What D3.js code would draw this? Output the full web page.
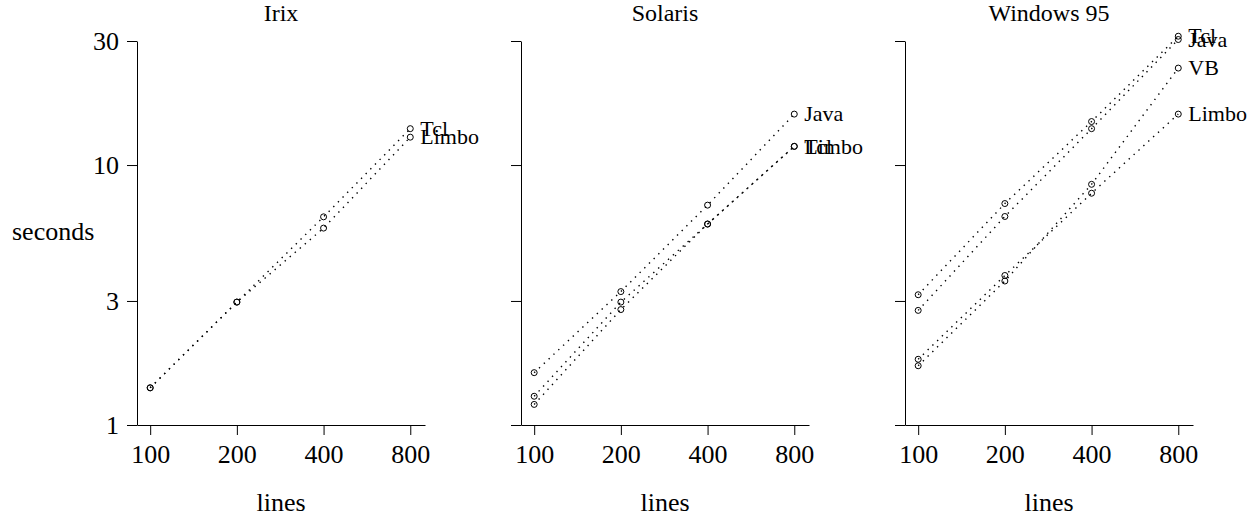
<!DOCTYPE html>
<html>
<head>
<meta charset="utf-8">
<script src="https://cdn.jsdelivr.net/npm/d3@7"></script>
<style>
  body { margin: 0; background: #fff; }
  svg text { font-family: "Liberation Serif", "Times New Roman", serif; fill: #000; }
  .axis path, .axis line { stroke: #000; stroke-width: 1; }
  .axis text { font-family: "Liberation Serif", serif; }
</style>
</head>
<body>
<svg id="chart" width="1256" height="517"></svg>
<script>
// x values (lines of code) and axis ticks
const lineCounts = [100, 200, 400, 800];
const yTicks = [1, 3, 10, 30];
const panelTitles = ["Irix", "Solaris", "Windows 95"];

// Irix
const irixTcl = [1.39, 2.97, 6.32, 13.8];
const irixLimbo = [1.39, 2.97, 5.72, 12.8];

// Solaris
const solarisJava = [1.59, 3.26, 7.01, 15.7];
const solarisTcl = [1.29, 2.97, 5.93, 11.8];
const solarisLimbo = [1.2, 2.78, 5.93, 11.8];

// Windows 95
const win95Tcl = [3.17, 7.11, 14.7, 31.3];
const win95Java = [2.76, 6.34, 13.8, 30.4];
const win95VB = [1.69, 3.58, 8.43, 23.6];
const win95Limbo = [1.79, 3.76, 7.79, 15.7];

const panels = [
    [{ name: "Tcl", values: irixTcl }, { name: "Limbo", values: irixLimbo }],
    [{ name: "Java", values: solarisJava }, { name: "Tcl", values: solarisTcl }, { name: "Limbo", values: solarisLimbo }],
    [{ name: "Tcl", values: win95Tcl }, { name: "Java", values: win95Java }, { name: "VB", values: win95VB }, { name: "Limbo", values: win95Limbo }]
];

const svg = d3.select("#chart");
const left0 = 137, plotTop = 41, panelW = 288, panelH = 384, step = 384;

const x = d3.scaleLog().domain([90, 900]).range([0, panelW]);
const y = d3.scaleLog().domain([1, 30]).range([panelH, 0]);

const line = d3.line()
    .x(d => x(d.n))
    .y(d => y(d.v));

panels.forEach((series, i) => {
    const g = svg.append("g")
        .attr("transform", `translate(${left0 + i * step},${plotTop})`);

    // title
    g.append("text")
        .attr("x", panelW / 2)
        .attr("y", -20)
        .attr("text-anchor", "middle")
        .style("font-size", "24px")
        .text(panelTitles[i]);

    // axes
    g.append("g")
        .attr("class", "axis")
        .attr("transform", `translate(0,${panelH})`)
        .call(d3.axisBottom(x).tickValues(lineCounts).tickFormat(d3.format("d"))
            .tickSizeInner(10).tickSizeOuter(0).tickPadding(10));

    g.append("g")
        .attr("class", "axis")
        .call(d3.axisLeft(y).tickValues(yTicks)
            .tickFormat(i === 0 ? d3.format("d") : () => "")
            .tickSizeInner(10).tickSizeOuter(0).tickPadding(8));

    g.selectAll(".axis text").style("font-size", "26px");

    // x-axis title
    g.append("text")
        .attr("x", panelW / 2)
        .attr("y", panelH + 86)
        .attr("text-anchor", "middle")
        .style("font-size", "26px")
        .text("lines");

    series.forEach(s => {
        const pts = lineCounts.map((n, j) => ({ n: n, v: s.values[j] }));

        g.append("path")
            .datum(pts)
            .attr("fill", "none")
            .attr("stroke", "#000")
            .attr("stroke-width", 1.4)
            .attr("stroke-dasharray", "1.4 5.2")
            .attr("d", line);

        g.selectAll(null)
            .data(pts)
            .enter().append("circle")
            .attr("cx", d => x(d.n))
            .attr("cy", d => y(d.v))
            .attr("r", 3)
            .attr("fill", "none")
            .attr("stroke", "#000")
            .attr("stroke-width", 1);

        const last = pts[pts.length - 1];
        g.append("text")
            .attr("x", x(last.n) + 10)
            .attr("y", y(last.v))
            .attr("dy", "0.33em")
            .style("font-size", "22px")
            .text(s.name);
    });
});

// y-axis title
svg.append("text")
    .attr("x", 12)
    .attr("y", plotTop + panelH / 2 - 2)
    .attr("dy", "0.33em")
    .style("font-size", "26px")
    .text("seconds");
</script>
</body>
</html>
